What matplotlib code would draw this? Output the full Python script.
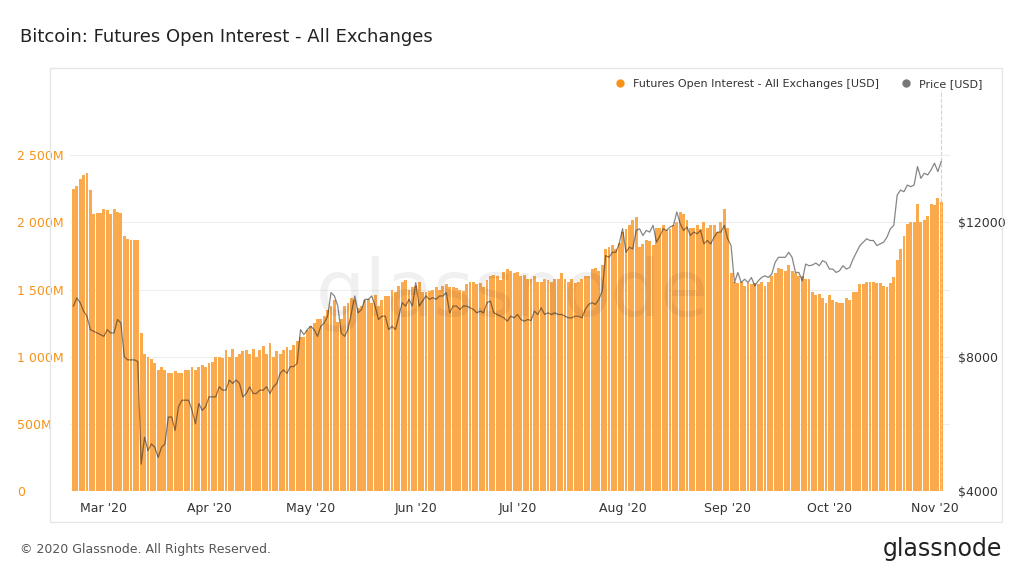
import numpy as np
import pandas as pd
import matplotlib.pyplot as plt
import matplotlib.dates as mdates
from matplotlib.patches import Rectangle
from matplotlib.lines import Line2D
from matplotlib.ticker import FuncFormatter

# Futures open interest [M USD], daily, Feb 21 - Nov 3 2020
oi_feb = [2250, 2270, 2320, 2350, 2370, 2240, 2060, 2070, 2070]
oi_mar = [2100, 2090, 2060, 2100, 2080, 2070, 1900, 1880, 1870, 1870, 1870,
          1180, 1020, 1000, 980, 950, 900, 920, 900, 880, 880, 890, 880, 880,
          900, 900, 920, 900, 920, 940, 920]
oi_apr = [950, 960, 1000, 1000, 990, 1050, 1000, 1060, 1000, 1020, 1040, 1050,
          1020, 1060, 1000, 1050, 1080, 1020, 1100, 1000, 1040, 1020, 1050,
          1070, 1050, 1090, 1120, 1150, 1150, 1200]
oi_may = [1230, 1250, 1280, 1280, 1300, 1350, 1380, 1420, 1260, 1280, 1380,
          1400, 1440, 1420, 1360, 1380, 1420, 1430, 1400, 1460, 1380, 1420,
          1450, 1450, 1500, 1480, 1530, 1560, 1570, 1500, 1520]
oi_jun = [1530, 1560, 1480, 1480, 1490, 1500, 1520, 1500, 1530, 1540, 1520,
          1520, 1510, 1500, 1490, 1540, 1560, 1560, 1540, 1550, 1520, 1570,
          1600, 1610, 1600, 1570, 1630, 1650, 1640, 1620]
oi_jul = [1630, 1600, 1610, 1580, 1580, 1600, 1560, 1560, 1580, 1570, 1560,
          1580, 1580, 1620, 1580, 1560, 1580, 1550, 1560, 1580, 1600, 1600,
          1650, 1660, 1640, 1680, 1800, 1820, 1830, 1800, 1850]
oi_aug = [1930, 1950, 1980, 2020, 2040, 1820, 1840, 1870, 1860, 1830, 1960,
          1960, 1980, 1940, 1950, 1980, 2000, 2080, 2060, 2020, 1960, 1960,
          1980, 1950, 2000, 1960, 1980, 1980, 1930, 2000, 2100]
oi_sep = [1960, 1620, 1560, 1550, 1560, 1530, 1550, 1540, 1550, 1540, 1560,
          1530, 1560, 1600, 1620, 1660, 1650, 1640, 1680, 1640, 1620, 1600,
          1600, 1580, 1580, 1480, 1460, 1470, 1440, 1400]
oi_oct = [1460, 1420, 1410, 1400, 1400, 1440, 1420, 1480, 1480, 1540, 1540,
          1560, 1560, 1560, 1550, 1550, 1530, 1520, 1550, 1590, 1720, 1800,
          1900, 1990, 2000, 2000, 2140, 2000, 2020, 2050, 2140]
oi_nov = [2130, 2180, 2150]

# BTC price [USD]
px_feb = [9500, 9740, 9600, 9350, 9200, 8800, 8750, 8700, 8650]
px_mar = [8600, 8800, 8700, 8700, 9100, 9000, 8000, 7900, 7900, 7900, 7850,
          4800, 5600, 5200, 5400, 5300, 5000, 5300, 5400, 6200, 6200, 5800,
          6500, 6700, 6700, 6700, 6400, 6000, 6600, 6400, 6500]
px_apr = [6800, 6800, 6800, 7100, 7000, 7000, 7300, 7200, 7300, 7200, 6800,
          6900, 7100, 6900, 6900, 7000, 7000, 7100, 6900, 7100, 7200, 7500,
          7600, 7500, 7700, 7700, 7800, 8800, 8650, 8800]
px_may = [8900, 8800, 8600, 8900, 9000, 9200, 9900, 9800, 9500, 8700, 8600,
          8800, 9300, 9800, 9300, 9400, 9700, 9700, 9800, 9500, 9100, 9200,
          9200, 8800, 8900, 8800, 9200, 9600, 9500, 9700, 9500]
px_jun = [10200, 9500, 9650, 9800, 9700, 9750, 9700, 9800, 9800, 9900, 9300,
          9500, 9500, 9400, 9500, 9500, 9450, 9400, 9300, 9350, 9300, 9600,
          9650, 9300, 9250, 9200, 9150, 9050, 9200, 9150]
px_jul = [9250, 9100, 9050, 9100, 9070, 9350, 9250, 9450, 9250, 9300, 9250,
          9300, 9250, 9250, 9200, 9150, 9150, 9200, 9200, 9150, 9400, 9550,
          9600, 9550, 9700, 9950, 11000, 10950, 11100, 11100, 11350]
px_aug = [11800, 11100, 11250, 11200, 11750, 11800, 11600, 11750, 11700, 11900,
          11400, 11580, 11800, 11750, 11850, 11900, 12300, 11950, 11750, 11850,
          11600, 11700, 11650, 11750, 11350, 11450, 11350, 11550, 11700, 11700,
          11900]
px_sep = [11500, 11300, 10200, 10500, 10200, 10300, 10200, 10350, 10100, 10250,
          10350, 10400, 10350, 10450, 10800, 10950, 10950, 10950, 11100, 10950,
          10500, 10500, 10250, 10750, 10700, 10720, 10780, 10700, 10850, 10800]
px_oct = [10600, 10600, 10500, 10550, 10700, 10600, 10650, 10900, 11100, 11300,
          11400, 11500, 11450, 11450, 11300, 11350, 11400, 11550, 11800, 11900,
          12800, 12950, 12900, 13100, 13050, 13100, 13650, 13300, 13450, 13400,
          13550]
px_nov = [13750, 13500, 13800]

oi = oi_feb + oi_mar + oi_apr + oi_may + oi_jun + oi_jul + oi_aug + oi_sep + oi_oct + oi_nov
price = px_feb + px_mar + px_apr + px_may + px_jun + px_jul + px_aug + px_sep + px_oct + px_nov
dates = pd.date_range("2020-02-21", periods=len(oi), freq="D")

ORANGE = "#f7931a"
BAR = "#fba94d"

fig = plt.figure(figsize=(10.24, 5.76), dpi=100)
fig.patch.set_facecolor("white")

# outer panel frame
fig.patches.append(Rectangle((50 / 1024, 1 - 522 / 576), 952 / 1024, 454 / 576,
                             transform=fig.transFigure, fill=False,
                             edgecolor="#e6e6e6", linewidth=1))

ax = fig.add_axes([70 / 1024, 1 - 491 / 576, 880 / 1024, 401 / 576])
ax.bar(dates, oi, width=0.85, color=BAR, zorder=2)
ax.set_ylim(0, 2986)
ax.set_xlim(pd.Timestamp("2020-02-20"), pd.Timestamp("2020-11-05 14:00"))
ax.yaxis.set_ticks([0, 500, 1000, 1500, 2000, 2500])
ax.yaxis.set_major_formatter(FuncFormatter(
    lambda v, p: "0" if v == 0 else f"{int(v):,}M".replace(",", " ")))
ax.tick_params(axis="y", colors=ORANGE, labelsize=9, length=0, pad=38)
for lbl in ax.get_yticklabels():
    lbl.set_horizontalalignment("left")
ax.grid(axis="y", color="#eeeeee", linewidth=0.8, zorder=0)
ax.xaxis.set_major_locator(mdates.MonthLocator())
ax.xaxis.set_major_formatter(mdates.DateFormatter("%b '%y"))
ax.tick_params(axis="x", colors="#333333", labelsize=9, length=0, pad=8)
for s in ax.spines.values():
    s.set_visible(False)

ax2 = ax.twinx()
ax2.plot(dates, price, color="#222222", alpha=0.55, linewidth=0.9, zorder=3)
ax2.set_ylim(4000, 15926)
ax2.set_yticks([4000, 8000, 12000])
ax2.yaxis.set_major_formatter(FuncFormatter(lambda v, p: f"${int(v)}"))
ax2.tick_params(axis="y", colors="#333333", labelsize=9, length=0, pad=6)
for s in ax2.spines.values():
    s.set_visible(False)
ax2.axvline(dates[-1], color="#f7c9a0", linestyle="--", linewidth=0.8, zorder=1)

# watermark
fig.text(0.5, 0.49, "glassnode", fontsize=56, color="#000000", alpha=0.06,
         ha="center", va="center", family="DejaVu Sans")

fig.text(20 / 1024, 1 - 37 / 576, "Bitcoin: Futures Open Interest - All Exchanges",
         fontsize=13, color="#222222", va="center", fontweight="medium")
fig.text(20 / 1024, 1 - 550 / 576, "© 2020 Glassnode. All Rights Reserved.",
         fontsize=9, color="#555555", va="center")
fig.text(1002 / 1024, 1 - 549 / 576, "glassnode", fontsize=17, color="#222222",
         va="center", ha="right")

handles = [Line2D([], [], marker="o", linestyle="", color=ORANGE, markersize=5),
           Line2D([], [], marker="o", linestyle="", color="#777777", markersize=5)]
fig.legend(handles, ["Futures Open Interest - All Exchanges [USD]", "Price [USD]"],
           loc="center right", bbox_to_anchor=(992 / 1024, 1 - 84 / 576), ncol=2,
           frameon=False, fontsize=8, handletextpad=0.1, columnspacing=1.5,
           labelcolor="#333333")

fig.savefig("out.png", dpi=100)
